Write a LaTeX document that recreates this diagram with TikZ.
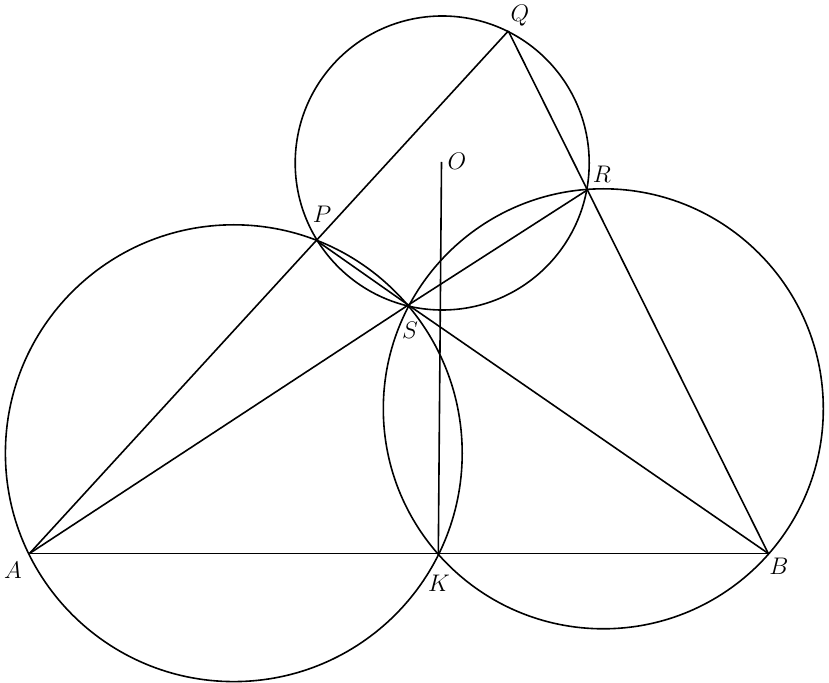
\documentclass[tikz,border=0pt]{standalone}
\begin{document}
\begin{tikzpicture}[x=0.5pt,y=-0.5pt,
  geo/.style={line width=0.8pt, black},
  lbl/.style={inner sep=0pt, font=\large}]
\useasboundingbox (0,0) rectangle (829,683);
% points
\coordinate (A) at (29.5,553.5);
\coordinate (B) at (768.3,553.5);
\coordinate (K) at (438.3,553.5);
\coordinate (P) at (316.7,240.7);
\coordinate (Q) at (508.3,31);
\coordinate (R) at (587.3,190);
\coordinate (S) at (408.3,305);
\coordinate (O) at (441.5,162);
\coordinate (C1) at (233.8,453.2);
\coordinate (C2) at (603.3,408.8);
\coordinate (C3) at (442.2,163);
% circles
\draw[geo] (C1) circle[radius=228.4];
\draw[geo] (C2) circle[radius=220];
\draw[geo] (C3) circle[radius=147];
% segments
\draw[geo] (A) -- (B);
\draw[geo] (A) -- (Q);
\draw[geo] (Q) -- (B);
\draw[geo] (A) -- (S);
\draw[geo] (S) -- (B);
\draw[geo] (P) -- (S);
\draw[geo] (S) -- (R);
\draw[geo] (K) -- (O);
% labels
\node[lbl] (lA) at (13,570) {$A$};
\node[lbl] (lB) at (779,566) {$B$};
\node[lbl] (lK) at (439,583) {$K$};
\node[lbl] (lP) at (322,214) {$P$};
\node[lbl] (lQ) at (520,16) {$Q$};
\node[lbl] (lR) at (602,174) {$R$};
\node[lbl] (lS) at (410,330) {$S$};
\node[lbl] (lO) at (457,161) {$O$};
\end{tikzpicture}
\end{document}
